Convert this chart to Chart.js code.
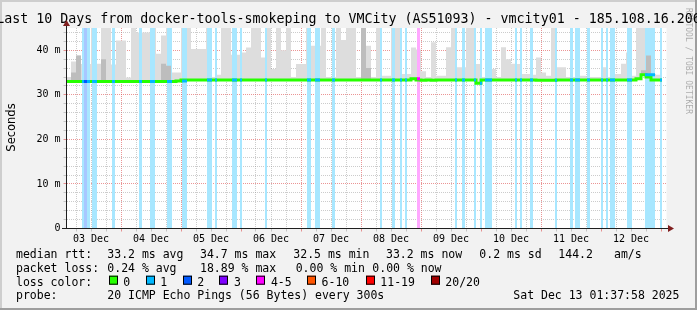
<!DOCTYPE html>
<html>
<head>
<meta charset="utf-8">
<script src="https://cdn.jsdelivr.net/npm/chart.js@4.4.0/dist/chart.umd.min.js"></script>
<style>
  html, body { margin: 0; padding: 0; background: #f2f2f2; }
  canvas { display: block; }
</style>
</head>
<body>
<canvas id="chart" width="697" height="310"></canvas>
<script>
// all times are hours counted from 03 Dec 00:00
const titleText = 'Last 10 Days from docker-tools-smokeping to VMCity (AS51093) - vmcity01 - 185.108.16.206';
const dayLabels = ['03 Dec', '04 Dec', '05 Dec', '06 Dec', '07 Dec', '08 Dec', '09 Dec', '10 Dec', '11 Dec', '12 Dec'];
const viewStart = 2.2;
const viewEnd = 242.2;
const yMax = 45;
const sampleStep = 2;      // one value every 2 hours
const dataEndHour = 240.4;

// median rtt in ms, one per sample
const medianMs = [
  33.0, 33.0, 33.0, 33.0, 33.0, 33.0, 33.0, 33.0, 33.0, 33.0,
  33.0, 33.0, 33.0, 33.0, 33.0, 33.0, 33.0, 33.0, 33.0, 33.0,
  33.0, 33.0, 33.0, 33.1, 33.35, 33.35, 33.35, 33.35, 33.35, 33.35,
  33.35, 33.35, 33.35, 33.35, 33.35, 33.35, 33.35, 33.35, 33.35, 33.35,
  33.35, 33.35, 33.35, 33.35, 33.35, 33.35, 33.35, 33.35, 33.35, 33.35,
  33.35, 33.35, 33.35, 33.35, 33.35, 33.35, 33.35, 33.35, 33.35, 33.35,
  33.35, 33.35, 33.35, 33.35, 33.35, 33.35, 33.35, 33.35, 33.35, 33.35,
  33.6, 33.35, 33.3, 33.35, 33.3, 33.35, 33.35, 33.35, 33.35, 33.35,
  33.35, 33.35, 33.35, 32.6, 33.35, 33.35, 33.35, 33.35, 33.35, 33.35,
  33.35, 33.35, 33.35, 33.35, 33.35, 33.3, 33.3, 33.3, 33.3, 33.35,
  33.35, 33.35, 33.35, 33.35, 33.35, 33.35, 33.35, 33.35, 33.35, 33.35,
  33.35, 33.35, 33.35, 33.35, 33.35, 33.6, 34.5, 34.0, 33.35, 33.35
];

// highest ping of the sample (outer smoke)
const smokeMaxMs = [
  34.8, 34.0, 37.5, 38.8, 36.9, 36.9, 45, 37, 45, 45,
  36.8, 42.2, 42.2, 33.9, 45, 44, 44, 44, 45, 39.2,
  43.3, 45, 35, 35, 45, 45, 40.3, 40.3, 40.3, 45,
  34, 34.5, 45, 45, 39, 39, 39.5, 40.6, 45, 45,
  38.4, 45, 35.8, 45, 40, 45, 34, 36.9, 36.9, 45,
  41, 41, 45, 34, 34, 45, 42.3, 45, 45, 34,
  45, 41, 34, 45, 34.3, 34.3, 45, 45, 34.7, 34.7,
  40.6, 40.2, 35.3, 34, 41.8, 34.3, 34.3, 40.7, 45, 36.2,
  36.2, 45, 45, 36.9, 34, 34, 35.8, 34, 40.7, 38,
  37, 36.9, 34.7, 34.7, 34.5, 38.4, 35, 34.3, 45, 36.2,
  36.2, 34, 34, 34.3, 34.3, 34, 34, 34, 36.2, 34,
  34.7, 34.7, 37, 39.5, 34.3, 45, 45, 45, 34.7, 34.5
];

// denser inner smoke, null where it hugs the median
const smokeMidMs = [
  null, null, 35.0, 38.8, null, null, null, null, 38.0, null,
  null, null, null, null, null, null, null, null, null, null,
  37.0, 36.5, null, null, null, null, null, null, null, null,
  null, null, null, null, null, null, null, null, null, null,
  null, null, null, null, null, null, null, null, null, null,
  null, null, null, null, null, null, null, null, null, null,
  45, 36.0, null, null, null, null, null, null, null, null,
  null, null, null, null, null, null, null, null, null, null,
  null, null, null, null, null, null, null, null, null, null,
  null, null, null, null, null, null, null, null, null, null,
  null, null, null, null, null, null, null, null, null, null,
  null, null, null, null, null, null, 35.5, 38.8, null, null
];

// periods with packet loss
const lossFrom = [8.4, 9.2, 10.4, 12.4, 20.4, 31.2, 35.6, 42.4, 48.4, 58.4,
  61.6, 68.4, 71.6, 81.6, 98.4, 101.6, 108.4, 127.6, 132.4, 135.6,
  137.6, 142.4, 157.6, 160.4, 165.2, 167.6, 169.6, 181.6, 183.6, 187.6,
  197.6, 203.6, 205.6, 210.4, 216.0, 218.0, 219.6, 226.4, 233.6, 239.6];
const lossTo = [9.2, 10.4, 11.6, 14.4, 21.6, 32.4, 37.6, 44.4, 50.4, 60.4,
  62.4, 70.4, 72.4, 82.4, 100.0, 103.6, 109.6, 128.4, 133.6, 136.4,
  138.4, 143.6, 158.4, 161.6, 166.0, 168.4, 172.4, 182.4, 184.4, 188.8,
  198.4, 204.8, 207.6, 211.6, 216.8, 218.8, 221.6, 228.4, 237.6, 240.4];
const lossPings = [1, 2, 1, 1, 1, 1, 1, 1, 1, 1,
  1, 1, 1, 1, 1, 1, 1, 1, 1, 1,
  1, 4, 1, 1, 1, 1, 1, 1, 1, 1,
  1, 1, 1, 1, 1, 1, 1, 1, 1, 1];

const lossLabels = ['0', '1', '2', '3', '4-5', '6-10', '11-19', '20/20'];
const lossColors = ['#26ff00', '#00b8ff', '#0059ff', '#7e00ff', '#ff00ff', '#ff5500', '#ff0000', '#a10000'];

const rttStats = ['33.2 ms avg', '34.7 ms max', '32.5 ms min', '33.2 ms now', '0.2 ms sd', '144.2', 'am/s'];
const lossStats = ['0.24 % avg', '18.89 % max', '0.00 % min', '0.00 % now'];
const probeText = '20 ICMP Echo Pings (56 Bytes) every 300s';
const stampText = 'Sat Dec 13 01:37:58 2025';

const minorGrid = 'rgba(143,143,143,0.45)';
const majorGrid = 'rgba(222,79,79,0.6)';
const mono = 'DejaVu Sans Mono';

function lossLevel(p) {
  if (p <= 3) return p;
  if (p <= 5) return 4;
  if (p <= 10) return 5;
  if (p < 20) return 6;
  return 7;
}

// mix a colour with white so the loss bars look like smokeping's background bars
function pale(hex, amount) {
  const n = parseInt(hex.slice(1), 16);
  const mix = c => Math.round(255 - (255 - c) * amount);
  return `rgb(${mix(n >> 16)},${mix((n >> 8) & 255)},${mix(n & 255)})`;
}

const sampleHours = medianMs.map((_, i) => (i + 1) * sampleStep);

function series(values, fallback) {
  const pts = values.map((v, i) => ({ x: sampleHours[i], y: v === null ? fallback[i] : v }));
  pts.push({ x: dataEndHour, y: pts[pts.length - 1].y });
  return pts;
}

function medianAt(h) {
  const i = Math.min(medianMs.length - 1, Math.max(0, Math.floor(h / sampleStep) - 1));
  return medianMs[i];
}

const datasets = [];

datasets.push({
  label: 'smoke',
  data: series(smokeMaxMs, medianMs),
  stepped: 'after',
  borderWidth: 0,
  pointRadius: 0,
  backgroundColor: '#dddddd',
  fill: 1,
  order: 6
});

datasets.push({
  label: 'median',
  data: series(medianMs, medianMs),
  stepped: 'after',
  borderColor: lossColors[0],
  borderWidth: 3,
  pointRadius: 0,
  fill: false,
  order: 3
});

datasets.push({
  label: 'smoke-mid',
  data: series(smokeMidMs, medianMs),
  stepped: 'after',
  borderWidth: 0,
  pointRadius: 0,
  backgroundColor: '#bdbdbd',
  fill: 1,
  order: 4
});

// loss bars (full height) and loss-coloured median, one dataset per level
const levels = [...new Set(lossPings.map(lossLevel))];
levels.forEach(level => {
  const bars = [];
  const marks = [];
  lossFrom.forEach((from, i) => {
    if (lossLevel(lossPings[i]) !== level) return;
    const to = lossTo[i];
    const m = medianAt((from + to) / 2);
    bars.push({ x: from, y: yMax }, { x: to, y: yMax }, { x: to, y: null });
    marks.push({ x: from, y: m }, { x: to, y: m }, { x: to, y: null });
  });
  datasets.push({
    label: 'lossbar' + level,
    data: bars,
    borderWidth: 0,
    pointRadius: 0,
    backgroundColor: pale(lossColors[level], 0.34),
    fill: 'origin',
    spanGaps: false,
    order: 5
  });
  datasets.push({
    label: 'loss' + level,
    data: marks,
    borderColor: lossColors[level],
    borderWidth: 3,
    borderCapStyle: 'butt',
    pointRadius: 0,
    fill: false,
    spanGaps: false,
    order: 2
  });
});

const framePlugin = {
  id: 'frame',
  beforeDraw(chart) {
    const { ctx, chartArea: a, width, height } = chart;
    ctx.save();
    ctx.fillStyle = '#f2f2f2';
    ctx.fillRect(0, 0, width, height);
    ctx.fillStyle = '#cecece';
    ctx.fillRect(0, 0, width, 2);
    ctx.fillRect(0, 0, 2, height);
    ctx.fillStyle = '#9e9e9e';
    ctx.fillRect(0, height - 2, width, 2);
    ctx.fillRect(width - 2, 0, 2, height);
    ctx.fillStyle = '#ffffff';
    ctx.fillRect(a.left, a.top, a.right - a.left, a.bottom - a.top);
    ctx.restore();
  },
  afterDraw(chart) {
    const { ctx, chartArea: a } = chart;
    ctx.save();

    // title
    ctx.fillStyle = '#000';
    ctx.font = `13.3px "${mono}"`;
    ctx.textAlign = 'center';
    ctx.textBaseline = 'alphabetic';
    ctx.fillText(titleText, chart.width / 2, 23);

    // axis extensions and arrows
    ctx.strokeStyle = '#1f1f1f';
    ctx.lineWidth = 1;
    ctx.beginPath();
    ctx.moveTo(66.5, a.bottom);
    ctx.lineTo(66.5, 24);
    ctx.moveTo(62, 228.5);
    ctx.lineTo(669, 228.5);
    ctx.stroke();
    ctx.fillStyle = '#801f1f';
    ctx.beginPath();
    ctx.moveTo(66.5, 20);
    ctx.lineTo(63, 26);
    ctx.lineTo(70, 26);
    ctx.closePath();
    ctx.fill();
    ctx.beginPath();
    ctx.moveTo(674, 228.5);
    ctx.lineTo(668, 225);
    ctx.lineTo(668, 232);
    ctx.closePath();
    ctx.fill();

    // vertical axis title
    ctx.fillStyle = '#000';
    ctx.save();
    ctx.translate(15, 127.5);
    ctx.rotate(-Math.PI / 2);
    ctx.font = '11.5px "DejaVu Sans"';
    ctx.textAlign = 'center';
    ctx.fillText('Seconds', 0, 0);
    ctx.restore();

    // watermark
    ctx.save();
    ctx.translate(686, 8);
    ctx.rotate(Math.PI / 2);
    ctx.font = `8px "${mono}"`;
    ctx.fillStyle = 'rgba(0,0,0,0.3)';
    ctx.textAlign = 'left';
    ctx.fillText('RRDTOOL / TOBI OETIKER', 0, 0);
    ctx.restore();

    // legend
    ctx.font = `11.5px "${mono}"`;
    ctx.textAlign = 'left';
    ctx.fillStyle = '#000';
    const rows = [258.3, 272, 285.7, 299.4];
    ctx.fillText('median rtt:', 16, rows[0]);
    [107.3, 200, 293.3, 386, 479.3, 558.3, 614].forEach((x, i) => ctx.fillText(rttStats[i], x, rows[0]));
    ctx.fillText('packet loss:', 16, rows[1]);
    [107.3, 200, 295.7, 372.3].forEach((x, i) => ctx.fillText(lossStats[i], x, rows[1]));
    ctx.fillText('loss color:', 16, rows[2]);
    const boxX = [108.7, 145.7, 182.7, 219.3, 256.3, 307, 365.7, 430.7];
    boxX.forEach((x, i) => {
      ctx.fillStyle = lossColors[i];
      ctx.fillRect(Math.round(x), rows[2] - 10, 9, 9);
      ctx.strokeStyle = '#000';
      ctx.strokeRect(Math.round(x) + 0.5, rows[2] - 10 + 0.5, 8, 8);
      ctx.fillStyle = '#000';
      ctx.fillText(lossLabels[i], x + 14.6, rows[2]);
    });
    ctx.fillText('probe:', 16, rows[3]);
    ctx.fillText(probeText, 107.3, rows[3]);
    ctx.fillText(stampText, 513.3, rows[3]);
    ctx.restore();
  }
};

new Chart(document.getElementById('chart'), {
  type: 'line',
  data: { datasets },
  plugins: [framePlugin],
  options: {
    responsive: false,
    animation: false,
    events: [],
    devicePixelRatio: 1,
    layout: { padding: { top: 28, right: 30.5, left: 0, bottom: 67.5 } },
    plugins: { legend: { display: false }, tooltip: { enabled: false }, title: { display: false } },
    elements: { line: { tension: 0 } },
    scales: {
      x: {
        type: 'linear',
        min: viewStart,
        max: viewEnd,
        z: 1,
        afterFit(s) { s.height = 14; },
        afterBuildTicks(s) {
          s.ticks = [];
          for (let h = 6; h <= 240; h += 6) s.ticks.push({ value: h });
        },
        ticks: {
          autoSkip: false,
          maxRotation: 0,
          minRotation: 0,
          padding: 2,
          color: '#000',
          font: { family: mono, size: 10 },
          callback: v => (v % 24 === 12 ? dayLabels[(v - 12) / 24] : '')
        },
        grid: {
          color: c => (c.tick && c.tick.value % 24 === 0 ? majorGrid : minorGrid),
          tickColor: c => (c.tick && c.tick.value % 24 === 0 ? majorGrid : minorGrid),
          tickLength: 3,
          lineWidth: 1
        },
        border: { display: true, color: '#1f1f1f', width: 1, dash: [1, 1] }
      },
      y: {
        type: 'linear',
        min: 0,
        max: yMax,
        z: 1,
        afterFit(s) { s.width = 66.5; },
        afterBuildTicks(s) {
          s.ticks = [];
          for (let v = 0; v < yMax; v += 2) s.ticks.push({ value: v });
        },
        ticks: {
          autoSkip: false,
          padding: 3,
          color: '#000',
          font: { family: mono, size: 10 },
          callback: v => (v % 10 === 0 ? (v === 0 ? '0' : v + ' m') : '')
        },
        grid: {
          color: c => (!c.tick || c.tick.value === 0 ? 'rgba(0,0,0,0)' : c.tick.value % 10 === 0 ? majorGrid : minorGrid),
          tickColor: c => (c.tick && c.tick.value % 10 === 0 ? majorGrid : minorGrid),
          tickLength: 3,
          lineWidth: 1
        },
        border: { display: true, color: '#1f1f1f', width: 1, dash: [1, 1] }
      }
    }
  }
});
</script>
</body>
</html>
